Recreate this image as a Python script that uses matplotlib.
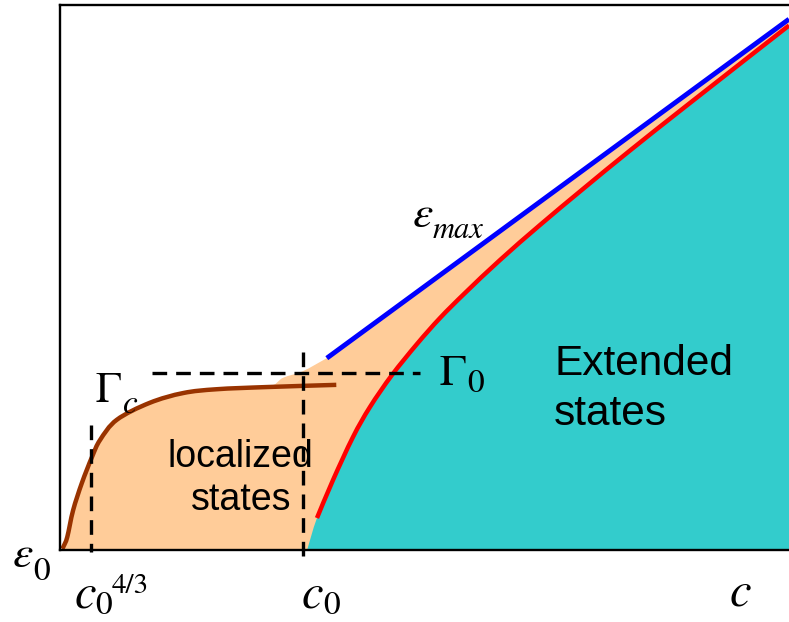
import matplotlib
matplotlib.use("Agg")
import matplotlib.pyplot as plt
from matplotlib.path import Path
from matplotlib.patches import PathPatch

# Gamma_c(c): crossover curve of the localized region
gc_c = [0.003, 0.005, 0.010, 0.018, 0.030, 0.044, 0.055, 0.078, 0.123, 0.169, 0.215, 0.284, 0.379]
gc_e = [0.002, 0.007, 0.024, 0.073, 0.123, 0.171, 0.202, 0.239, 0.270, 0.288, 0.295, 0.299, 0.303]

# upper edge of the localized band between Gamma_c and epsilon_max
band_c = [0.306, 0.333, 0.366]
band_e = [0.316, 0.328, 0.352]

# epsilon_max(c): straight band edge
emax_c = [0.366, 1.000]
emax_e = [0.352, 0.974]

# mobility edge separating localized and extended states
mob_c = [0.339, 0.3525, 0.3745, 0.4019, 0.4252, 0.4554, 0.4897, 0.5213, 0.5556,
         0.6036, 0.6584, 0.7174, 0.7819, 0.8615, 1.000]
mob_e = [0.000, 0.0587, 0.1284, 0.2073, 0.2624, 0.3211, 0.3780, 0.4257, 0.4716,
         0.5321, 0.5963, 0.6624, 0.7330, 0.8174, 0.9624]

# reference levels
c43 = 0.0425
c0 = 0.333
gamma0 = 0.325

PEACH = "#FFCC99"
TEAL = "#33CCCC"
BROWN = "#993300"


def smooth(xs, ys, first=Path.MOVETO):
    """Vertices/codes of a Catmull-Rom curve through the given points (cubic Bezier)."""
    pts = list(zip(xs, ys))
    verts = [pts[0]]
    codes = [first]
    n = len(pts)
    for i in range(n - 1):
        p0 = pts[i - 1] if i > 0 else pts[i]
        p1 = pts[i]
        p2 = pts[i + 1]
        p3 = pts[i + 2] if i + 2 < n else pts[i + 1]
        c1 = (p1[0] + (p2[0] - p0[0]) / 6, p1[1] + (p2[1] - p0[1]) / 6)
        c2 = (p2[0] - (p3[0] - p1[0]) / 6, p2[1] - (p3[1] - p1[1]) / 6)
        verts += [c1, c2, p2]
        codes += [Path.CURVE4] * 3
    return verts, codes


fig = plt.figure(figsize=(7.89, 6.22), dpi=100)
ax = fig.add_axes([60 / 789, 72 / 622, 729 / 789, 545 / 622])
ax.set_xlim(0, 1)
ax.set_ylim(0, 1)
ax.set_xticks([])
ax.set_yticks([])
ax.spines["right"].set_visible(False)
for s in ("left", "bottom", "top"):
    ax.spines[s].set_linewidth(1.7)
    ax.spines[s].set_zorder(10)

# localized region (peach): under Gamma_c, band edge and epsilon_max
v, c = smooth(gc_c[:-1] + band_c, gc_e[:-1] + band_e, first=Path.LINETO)
loc_v = [(0.0, 0.0)] + v + [(emax_c[-1], emax_e[-1]), (1.0, 0.0), (0.0, 0.0)]
loc_k = [Path.MOVETO] + c + [Path.LINETO, Path.LINETO, Path.CLOSEPOLY]
ax.add_patch(PathPatch(Path(loc_v, loc_k), facecolor=PEACH, lw=0, zorder=1))

# extended region (teal): under the mobility edge
v, c = smooth(mob_c, mob_e)
ext_v = v + [(1.0, 0.0), (mob_c[0], mob_e[0])]
ext_k = c + [Path.LINETO, Path.CLOSEPOLY]
ax.add_patch(PathPatch(Path(ext_v, ext_k), facecolor=TEAL, lw=0, zorder=2))

# curves
v, c = smooth(gc_c, gc_e)
ax.add_patch(PathPatch(Path(v, c), fill=False, edgecolor=BROWN, lw=3.2, capstyle="butt", zorder=4))
v, c = smooth(mob_c[1:], mob_e[1:])
ax.add_patch(PathPatch(Path(v, c), fill=False, edgecolor="red", lw=3.2, capstyle="butt", zorder=5))
ax.plot(emax_c, emax_e, color="blue", lw=3.5, solid_capstyle="butt", zorder=6)

# dashed guides
dash = dict(color="black", lw=2.4, dashes=(4.4, 2.7), zorder=7, clip_on=False)
ax.plot([c43, c43], [0.229, -0.004], **dash)
ax.plot([c0, c0], [0.363, -0.022], **dash)
ax.plot([0.126, 0.494], [gamma0, gamma0], **dash)

# region labels
sans = ["Liberation Sans", "DejaVu Sans"]
ax.text(0.678, 0.321, "Extended", family=sans, fontsize=30.5, ha="left", va="baseline", zorder=8)
ax.text(0.678, 0.229, "states", family=sans, fontsize=30.5, ha="left", va="baseline", zorder=8)
ax.text(0.247, 0.152, "localized", family=sans, fontsize=27, ha="center", va="baseline", zorder=8)
ax.text(0.248, 0.073, "states", family=sans, fontsize=27, ha="center", va="baseline", zorder=8)

# symbol labels: italic base letters with upright/italic indices
serif = ["STIXGeneral", "Liberation Serif", "DejaVu Serif"]


def sym(x, y, s, size, style="normal"):
    ax.text(x, y, s, family=serif, style=style, fontsize=size, ha="left",
            va="baseline", zorder=9, clip_on=False)


sym(0.5213, 0.3028, "\u0393", 32)
sym(0.5583, 0.2900, "0", 24)
sym(0.0490, 0.2716, "\u0393", 31)
sym(0.0870, 0.2514, "c", 24, "italic")
sym(0.4842, 0.5927, "\u03b5", 33, "italic")
sym(0.5117, 0.5725, "max", 22, "italic")
sym(-0.0645, -0.0312, "\u03b5", 33, "italic")
sym(-0.0370, -0.0550, "0", 24)
sym(0.0206, -0.1046, "c", 35, "italic")
sym(0.0480, -0.1180, "0", 24)
sym(0.0713, -0.0789, "4/3", 21)
sym(0.3320, -0.1046, "c", 35, "italic")
sym(0.3608, -0.1180, "0", 24)
sym(0.9190, -0.1010, "c", 35, "italic")

fig.savefig("out.png", dpi=100)
